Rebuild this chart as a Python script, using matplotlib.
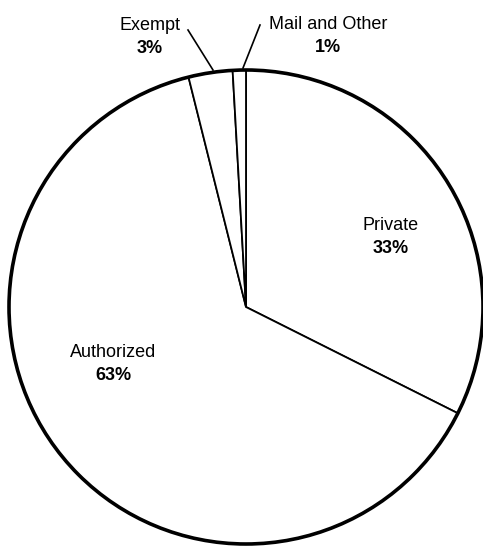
import matplotlib.pyplot as plt
from matplotlib.patches import Circle

plt.rcParams['font.family'] = ['Liberation Sans Narrow', 'Liberation Sans', 'DejaVu Sans']

categories = ['Private', 'Authorized', 'Exempt', 'Mail and Other']
shares = [32.4, 63.7, 3.0, 0.9]
pct_labels = ['33%', '63%', '3%', '1%']

W, H = 483, 546
fig = plt.figure(figsize=(W / 100, H / 100), dpi=100)
ax = fig.add_axes([0, 0, 1, 1])
ax.set_aspect('equal')
ax.axis('off')

cx, cy, r = 246, H - 307, 237
wedges, _ = ax.pie(shares, startangle=90, counterclock=False, center=(cx, cy),
                   radius=r, colors=['white'] * len(shares),
                   wedgeprops=dict(edgecolor='black', linewidth=1.3))
ax.add_patch(Circle((cx, cy), r, fill=False, edgecolor='black', linewidth=2.6))
ax.set_xlim(0, W)
ax.set_ylim(0, H)

# label anchors in pixel coords: (center x, baseline of percent line from top)
label_pos = [(391, 253), (113, 380), (150, 53), (328, 52)]
for name, pct, (x, y) in zip(categories, pct_labels, label_pos):
    ax.text(x, H - y + 23, name, ha='center', va='baseline', fontsize=13)
    ax.text(x, H - y, pct, ha='center', va='baseline', fontsize=13, fontweight='bold')

# leader lines for the thin top slices
ax.plot([188, 213], [H - 30, H - 70], color='black', lw=1.2)
ax.plot([260, 243], [H - 25, H - 68], color='black', lw=1.2)

fig.savefig('out.png', dpi=100, facecolor='white')
